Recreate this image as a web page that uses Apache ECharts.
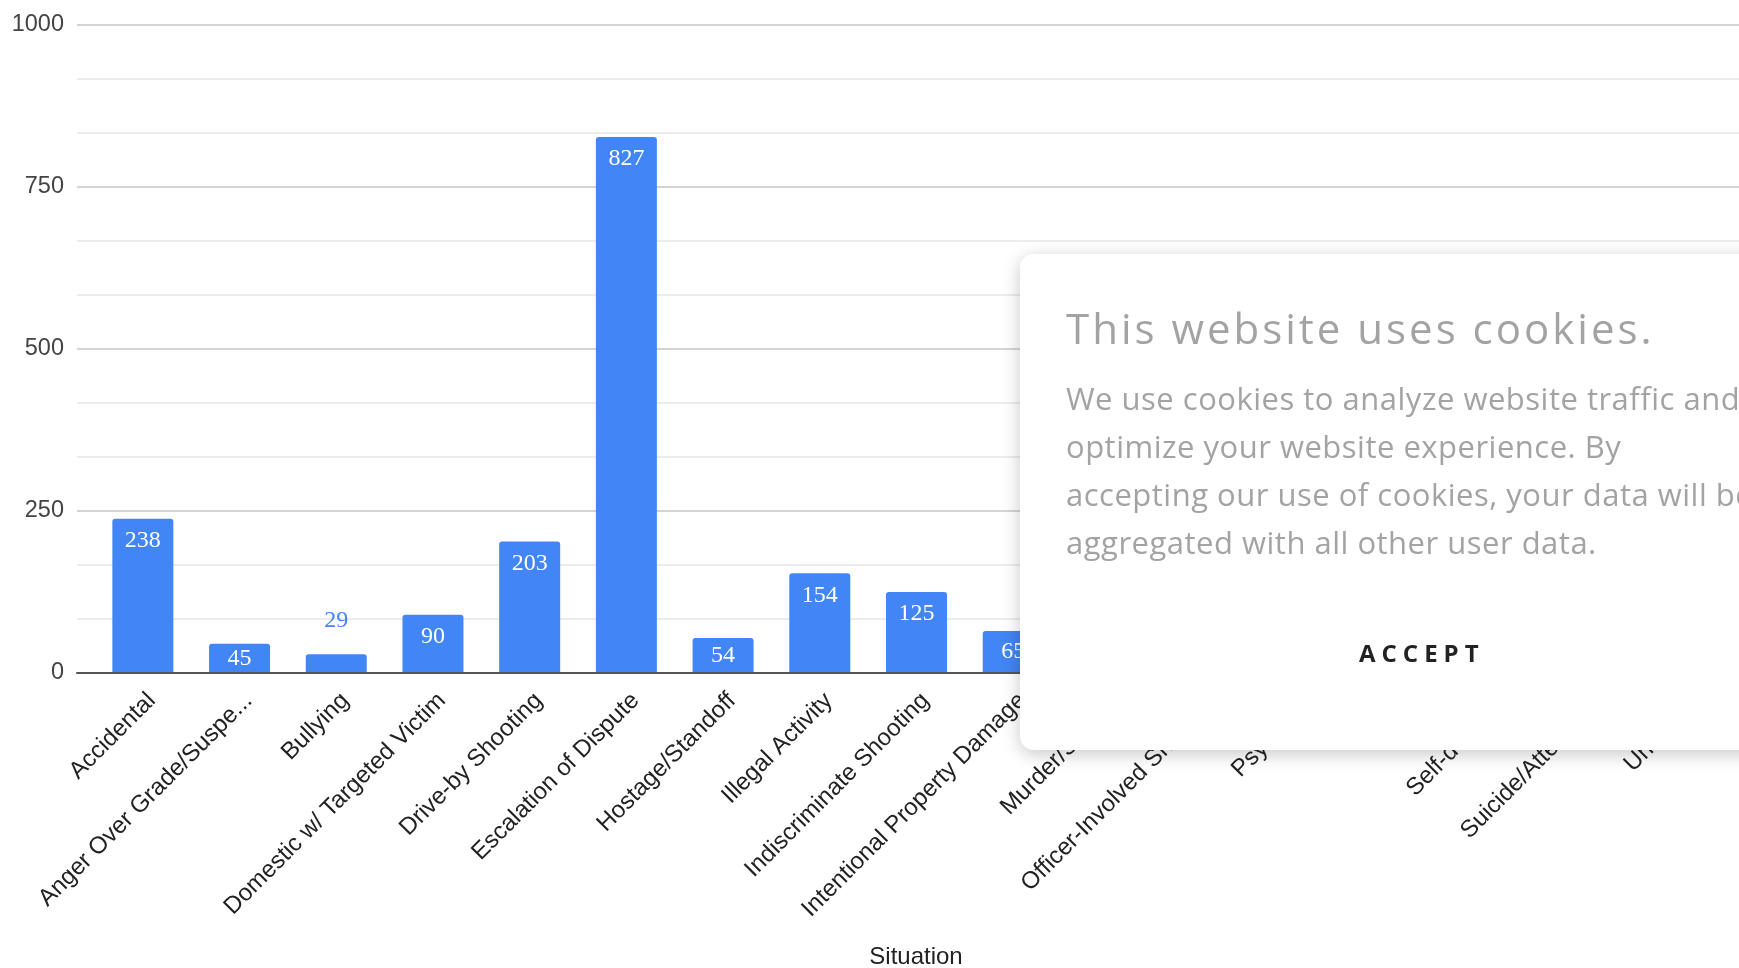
<!DOCTYPE html>
<html>
<head>
<meta charset="utf-8">
<script src="https://cdn.jsdelivr.net/npm/echarts@6/dist/echarts.min.js"></script>
<style>
html,body{margin:0;padding:0;width:1739px;height:968px;overflow:hidden;background:#fff;}
#chart{position:absolute;left:0;top:0;width:1739px;height:968px;}
#popup{position:absolute;left:1020px;top:254px;width:900px;height:496px;background:#fff;border-radius:14px;
  box-shadow:0 4px 18px rgba(0,0,0,0.22);font-family:'Open Sans',sans-serif;white-space:nowrap;}
#popup h2{position:absolute;left:46px;top:49px;margin:0;font-size:42px;line-height:50px;font-weight:400;letter-spacing:3px;color:#a3a3a3;}
#popup p{position:absolute;left:46px;top:120px;margin:0;font-size:31px;line-height:48px;font-weight:400;letter-spacing:0.5px;color:#a3a3a3;}
#popup .accept{position:absolute;left:339px;top:387px;font-size:24px;line-height:24px;font-weight:700;letter-spacing:6px;color:#222;}
</style>
</head>
<body>
<div id="chart"></div>
<div id="popup">
  <h2>This website uses cookies.</h2>
  <p>We use cookies to analyze website traffic and<br>optimize your website experience. By<br>accepting our use of cookies, your data will be<br>aggregated with all other user data.</p>
  <div class="accept">ACCEPT</div>
</div>
<script>
// Categories (x axis)
const categories = [
  'Accidental',
  'Anger Over Grade/Suspension/Discipline',
  'Bullying',
  'Domestic w/ Targeted Victim',
  'Drive-by Shooting',
  'Escalation of Dispute',
  'Hostage/Standoff',
  'Illegal Activity',
  'Indiscriminate Shooting',
  'Intentional Property Damage',
  'Murder/Suicide',
  'Officer-Involved Shooting',
  'Psychosis',
  'Racial',
  'Self-defense',
  'Suicide/Attempted',
  'Unknown'
];
// Counts per situation (last seven are hidden behind the cookie banner; estimated)
const values = [238, 45, 29, 90, 203, 827, 54, 154, 125, 65, 28, 48, 25, 12, 36, 120, 215];
// Y axis tick labels
const yTickLabels = [0, 250, 500, 750, 1000];

const BLUE = '#4285f4';
const labelFont = 'Liberation Serif';
const sansFont = 'Liberation Sans';

const barData = values.map(v => {
  let label;
  if (v >= 80) {
    label = {show:true, position:'insideTop', distance:10, color:'#fff'};
  } else if (v >= 40) {
    label = {show:true, position:'inside', color:'#fff'};
  } else {
    label = {show:true, position:'top', distance:22, color:BLUE};
  }
  label.fontFamily = labelFont;
  label.fontSize = 24;
  return {value:v, label};
});

const chart = echarts.init(document.getElementById('chart'), null, {renderer:'canvas'});
chart.setOption({
  animation:false,
  backgroundColor:'#fff',
  grid:[
    {left:77, top:25, width:1678, height:648, outerBoundsMode:'none', containLabel:false},
    {left:94.5, top:25, width:1644, height:648, outerBoundsMode:'none', containLabel:false},
    {left:103.5, top:25, width:1644, height:648, outerBoundsMode:'none', containLabel:false}
  ],
  xAxis:[
    {gridIndex:0, type:'value', min:0, max:1, z:5,
     axisLine:{show:true, lineStyle:{color:'#555', width:2}},
     axisTick:{show:false}, axisLabel:{show:false}, splitLine:{show:false},
     name:'Situation', nameLocation:'middle', nameGap:272,
     nameTextStyle:{fontFamily:sansFont, fontSize:24, color:'#222'}},
    {gridIndex:1, type:'category', data:categories,
     axisLine:{show:false}, axisTick:{show:false}, axisLabel:{show:false}},
    {gridIndex:2, type:'category', data:categories,
     axisLine:{show:false}, axisTick:{show:false},
     axisLabel:{interval:0, rotate:45, margin:24, fontFamily:sansFont, fontSize:24, color:'#222',
       formatter: s => s.length > 30 ? s.slice(0, 22) + '...' : s}}
  ],
  yAxis:[
    {gridIndex:0, type:'value', min:0, max:1000, interval:250,
     axisLine:{show:false}, axisTick:{show:false},
     axisLabel:{margin:13, fontFamily:sansFont, fontSize:23.5, color:'#444',
       formatter: v => yTickLabels.includes(v) ? String(v) : ''},
     splitLine:{show:true, lineStyle:{color:'#d4d4d4', width:2}},
     minorTick:{show:false, splitNumber:3},
     minorSplitLine:{show:true, lineStyle:{color:'#ececec', width:2}}},
    {gridIndex:1, type:'value', min:0, max:1000, show:false},
    {gridIndex:2, type:'value', min:0, max:1000, show:false}
  ],
  series:[{
    type:'bar', xAxisIndex:1, yAxisIndex:1, data:barData, barWidth:61,
    itemStyle:{color:BLUE, borderRadius:[3,3,0,0]}
  }]
});
</script>
</body>
</html>
